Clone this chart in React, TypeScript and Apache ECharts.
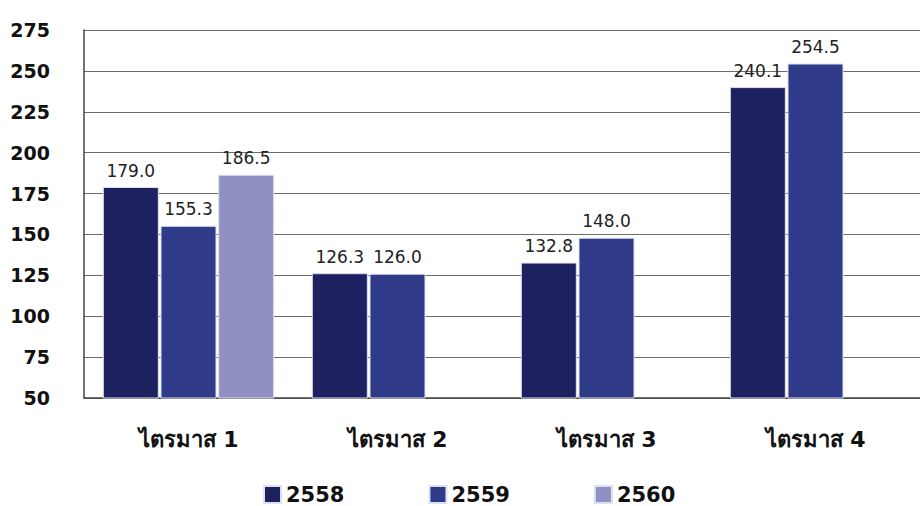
import React, { useEffect, useRef } from "react";
import * as echarts from "echarts";

const categories = ["ไตรมาส 1", "ไตรมาส 2", "ไตรมาส 3", "ไตรมาส 4"];
const seriesNames = ["2558", "2559", "2560"];
const values2558 = [179.0, 126.3, 132.8, 240.1];
const values2559 = [155.3, 126.0, 148.0, 254.5];
const values2560: (number | null)[] = [186.5, null, null, null];
const colors = ["#1e2160", "#2f3a88", "#9090c2"];

const FONT = "'DejaVu Sans', 'Noto Sans', sans-serif";

export default function App() {
  const ref = useRef<HTMLDivElement>(null);
  useEffect(() => {
    if (!ref.current) return;
    const chart = echarts.init(ref.current, undefined, { renderer: "svg" });
    const data = [values2558, values2559, values2560];
    chart.setOption({
      animation: false,
      textStyle: { fontFamily: FONT },
      grid: { left: 84, right: 0, top: 30, bottom: 108, containLabel: false },
      legend: {
        bottom: -4,
        left: 258,
        itemWidth: 17,
        itemHeight: 17,
        itemGap: 84,
        icon: "rect",
        textStyle: { fontSize: 21, fontWeight: "bold", color: "#111", fontFamily: FONT },
        data: seriesNames,
      },
      xAxis: {
        type: "category",
        data: categories,
        axisLine: { lineStyle: { color: "#444", width: 1.5 } },
        axisTick: { show: false },
        axisLabel: { fontSize: 22, fontWeight: "bold", color: "#111", margin: 30, fontFamily: FONT },
      },
      yAxis: {
        type: "value",
        min: 50,
        max: 275,
        interval: 25,
        axisLine: { show: true, lineStyle: { color: "#444", width: 1.5 } },
        axisTick: { show: false },
        splitLine: { lineStyle: { color: "#66706a", width: 1.2 } },
        axisLabel: { fontSize: 19, fontWeight: "bold", color: "#111", margin: 34, fontFamily: FONT },
      },
      series: seriesNames.map((name, i) => ({
        name,
        type: "bar",
        data: data[i],
        barWidth: 56,
        barGap: "3%",
        itemStyle: { color: colors[i], borderColor: "#dde0f0", borderWidth: 1 },
        label: {
          show: true,
          position: "top",
          distance: 8,
          fontSize: 17,
          color: "#222",
          fontFamily: FONT,
          formatter: (p: any) => (p.value == null ? "" : Number(p.value).toFixed(1)),
        },
      })),
    });
    return () => chart.dispose();
  }, []);
  return <div ref={ref} style={{ width: 920, height: 506, position: "absolute", left: 0, top: 0 }} />;
}
